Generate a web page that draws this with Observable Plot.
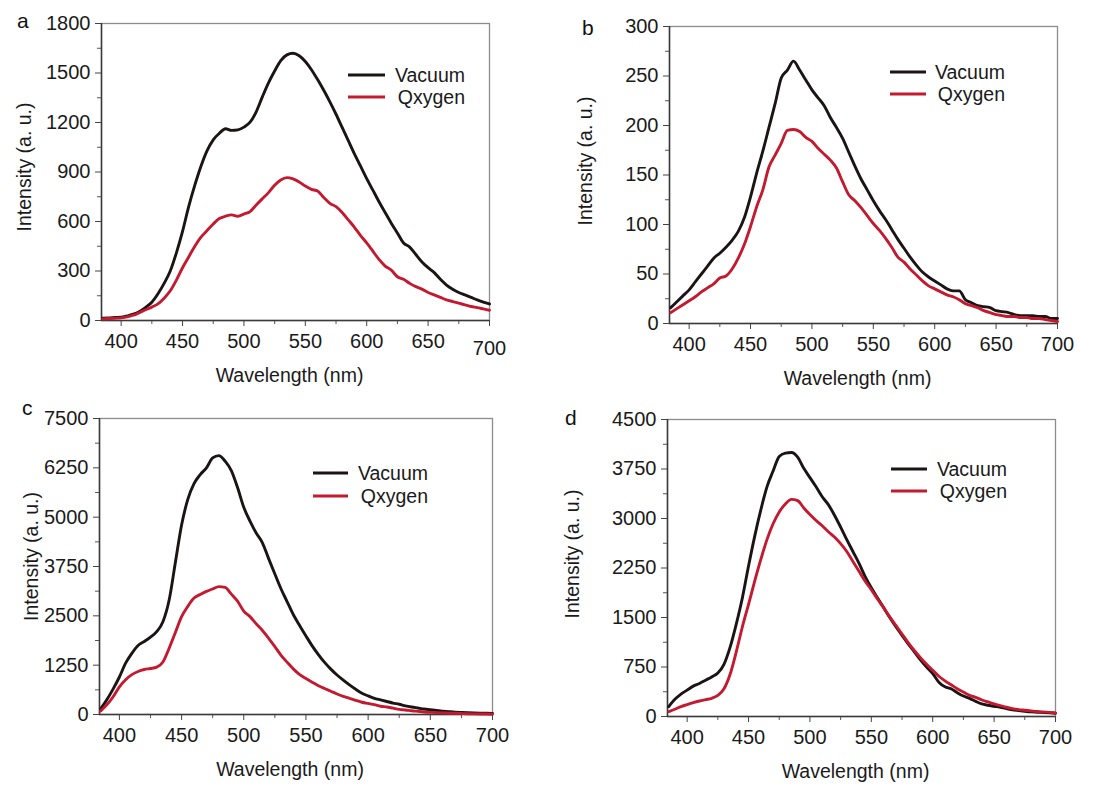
<!DOCTYPE html>
<html>
<head>
<meta charset="utf-8">
<script src="https://cdn.jsdelivr.net/npm/d3@7"></script>
<script src="https://cdn.jsdelivr.net/npm/@observablehq/plot@0.6"></script>
<style>
  html, body { margin: 0; padding: 0; background: #ffffff; }
  #root { position: relative; width: 1099px; height: 785px; overflow: hidden;
          font-family: "Liberation Sans", Arial, sans-serif; }
  #root > svg { position: absolute; }
</style>
</head>
<body>
<div id="root"></div>
<script>
// ---------------- data ----------------
const wavelengths = [385,390,395,400,405,410,415,420,425,430,435,440,445,450,455,460,465,470,475,480,485,490,495,500,505,510,515,520,525,530,535,540,545,550,555,560,565,570,575,580,585,590,595,600,605,610,615,620,625,630,635,640,645,650,655,660,665,670,675,680,685,690,695,700];

const vacuumA = [14,15,18,20, 28,38,55,80,111,162,225,300,410,540, 690,820,935,1030,1095,1135,1162,1152,1155,1172, 1202,1265,1355,1440,1512,1575,1610,1620,1605,1570, 1520,1460,1395,1325,1250,1170,1090,1010,935,860, 790,720,655,590,530,470,445,400,355,320, 290,250,215,190,170,155,140,125,112,100];
const oxygenA = [10,12,14,16, 22,32,48,65,81,101,135,180,245,320, 385,450,505,545,585,618,632,640,632,645, 660,700,738,775,820,852,866,858,840,815, 795,785,745,710,690,655,610,565,515,470, 420,370,330,305,265,250,225,205,190,170, 155,140,125,115,105,95,85,78,70,62];

const vacuumB = [16,22,28,34, 42,50,58,66,71,77,84,93,107,128, 152,174,198,222,248,256,265,256,246,236, 228,220,208,198,187,173,159,146,135,124, 114,105,95,85,76,67,59,52,47,43, 39,35,33,33,24,21,18,17,16,13, 12,11,9,8,8,8,7,7,5,5];
const oxygenB = [11,15,19,23, 27,32,36,40,46,48,55,66,80,98, 118,135,158,170,182,195,196,194,188,184, 177,171,165,157,143,130,124,117,109,101, 94,86,77,67,62,55,49,43,38,35, 32,29,27,24,20,18,16,13,11,9, 8,7,7,6,6,5,5,4,3,2];

const vacuumC = [150,380,650,950, 1300,1550,1750,1850,1960,2100,2350,2900,3850,4800, 5450,5850,6080,6250,6500,6560,6420,6180,5750,5250, 4900,4600,4350,3950,3560,3180,2850,2520,2250,1990, 1740,1520,1320,1150,1000,870,750,640,540,470, 410,370,330,290,260,220,190,165,140,120, 100,85,72,60,52,45,40,35,30,25];
const oxygenC = [90,250,450,700, 880,1010,1090,1140,1165,1200,1330,1680,2080,2480, 2740,2950,3040,3120,3180,3240,3220,3050,2870,2620, 2480,2300,2130,1930,1720,1500,1320,1150,1010,910, 820,730,660,590,520,460,410,360,310,280, 250,210,190,160,130,115,95,80,65,55, 47,40,35,30,25,20,17,14,11,8];

const vacuumD = [150,260,340,400, 460,500,550,600,660,790,1050,1400,1800,2280, 2730,3130,3480,3720,3940,3990,4000,3930,3760,3620, 3480,3330,3210,3050,2870,2680,2500,2320,2120,1950, 1800,1650,1500,1360,1230,1100,980,860,750,650, 520,450,420,360,310,275,230,190,170,155, 140,120,100,90,80,70,65,60,55,50];
const oxygenD = [75,110,150,180, 210,235,255,275,320,420,640,980,1360,1700, 2050,2380,2680,2920,3100,3220,3290,3270,3160,3060, 2970,2890,2800,2720,2620,2500,2350,2200,2050,1920, 1780,1650,1510,1380,1250,1120,1000,890,790,700, 610,540,480,420,370,320,290,250,220,190, 165,140,120,105,95,85,75,68,62,55];

const xDomain = [384, 700];
const xMajorTicks = [400,450,500,550,600,650,700];
const xMinorTicks = [425,475,525,575,625,675];

const yTicksA = [0,300,600,900,1200,1500,1800];
const yMinorA = [150,450,750,1050,1350,1650];
const yTicksB = [0,50,100,150,200,250,300];
const yMinorB = [25,75,125,175,225,275];
const yTicksC = [0,1250,2500,3750,5000,6250,7500];
const yMinorC = [625,1875,3125,4375,5625,6875];
const yTicksD = [0,750,1500,2250,3000,3750,4500];
const yMinorD = [375,1125,1875,2625,3375,4125];

const seriesNames = ["Vacuum", "Qxygen"];
const panelLetters = ["a", "b", "c", "d"];
const xTitle = "Wavelength (nm)";
const yTitle = "Intensity (a. u.)";

// ---------------- styling / layout ----------------
const vacuumColor = "#1c1414";
const oxygenColor = "#c41a30";
const FONT = '"Liberation Sans", Arial, sans-serif';

const panels = [
  {vac: vacuumA, oxy: oxygenA, yTicks: yTicksA, yMinor: yMinorA, lastPad: 14,
   left: 0, top: 0, height: 400, ml: 101, mr: 60, mt: 23, mb: 80, ylabX: 24, ylabDy: -5,
   letter: [17, 28], legend: {x1: 348, x2: 385, yV: 75, yO: 97, right: 465}},
  {vac: vacuumB, oxy: oxygenB, yTicks: yTicksB, yMinor: yMinorB, lastPad: 7,
   left: 550, top: 0, height: 400, ml: 119, mr: 42, mt: 26, mb: 77, ylabX: 35, ylabDy: -14,
   letter: [582, 35], legend: {x1: 890, x2: 926, yV: 72, yO: 94, right: 1005}},
  {vac: vacuumC, oxy: oxygenC, yTicks: yTicksC, yMinor: yMinorC, lastPad: 7,
   left: 0, top: 400, height: 385, ml: 99, mr: 57, mt: 18, mb: 71, ylabX: 31, ylabDy: -10,
   letter: [22, 415], legend: {x1: 313, x2: 348, yV: 473, yO: 496, right: 428}},
  {vac: vacuumD, oxy: oxygenD, yTicks: yTicksD, yMinor: yMinorD, lastPad: 7,
   left: 550, top: 400, height: 385, ml: 117, mr: 44, mt: 19, mb: 69, ylabX: 22, ylabDy: -14,
   letter: [565, 425], legend: {x1: 891, x2: 927, yV: 469, yO: 491, right: 1007}}
];

const root = document.getElementById("root");

panels.forEach((p) => {
  const data = wavelengths.map((w, i) => ({w, vac: p.vac[i], oxy: p.oxy[i]}));
  const yMax = p.yTicks[p.yTicks.length - 1];
  const svg = Plot.plot({
    width: 549,
    height: p.height,
    marginLeft: p.ml, marginRight: p.mr, marginTop: p.mt, marginBottom: p.mb,
    style: {fontFamily: FONT, fontSize: "20px", color: "#1a1a1a", background: "transparent"},
    x: {domain: xDomain, label: null},
    y: {domain: [0, yMax], label: null},
    marks: [
      Plot.frame({stroke: "#8c8c8c", strokeWidth: 1.3}),
      Plot.axisX({ticks: xMinorTicks, tickSize: 4, fill: "none", stroke: "#555", label: null}),
      Plot.axisX({ticks: xMajorTicks.slice(0, -1), tickSize: 6, tickPadding: 7, tickFormat: (d) => String(d),
                  fontSize: 20, stroke: "#444", fill: "#1a1a1a", label: null}),
      Plot.axisX({ticks: xMajorTicks.slice(-1), tickSize: 6, tickPadding: p.lastPad, tickFormat: (d) => String(d),
                  fontSize: 20, stroke: "#444", fill: "#1a1a1a", label: null}),
      Plot.axisY({ticks: p.yMinor, tickSize: 4, fill: "none", stroke: "#555", label: null}),
      Plot.axisY({ticks: p.yTicks, tickSize: 6, tickPadding: 5, tickFormat: (d) => String(d),
                  fontSize: 20, stroke: "#444", fill: "#1a1a1a", label: null}),
      Plot.ruleX([xDomain[0]], {stroke: "#3a3a3a", strokeWidth: 1.5}),
      Plot.ruleY([0], {stroke: "#3a3a3a", strokeWidth: 1.5}),
      Plot.line(data, {x: "w", y: "vac", stroke: vacuumColor, strokeWidth: 2.9, curve: "monotone-x"}),
      Plot.line(data, {x: "w", y: "oxy", stroke: oxygenColor, strokeWidth: 2.9, curve: "monotone-x"}),
      Plot.text([xTitle], {text: (d) => d, frameAnchor: "bottom", textAnchor: "middle", lineAnchor: "middle",
                           dy: 55, dx: -6, fontSize: 19.5, fill: "#1a1a1a"}),
      Plot.text([yTitle], {text: (d) => d, frameAnchor: "left", textAnchor: "middle", lineAnchor: "middle",
                           rotate: -90, dx: -(p.ml - p.ylabX), dy: p.ylabDy, fontSize: 19.5, fill: "#1a1a1a"})
    ]
  });
  svg.style.left = p.left + "px";
  svg.style.top = p.top + "px";
  root.appendChild(svg);
});

// ---------------- overlay: panel letters and legends ----------------
const ns = "http://www.w3.org/2000/svg";
const overlay = document.createElementNS(ns, "svg");
overlay.setAttribute("width", 1099);
overlay.setAttribute("height", 785);
overlay.style.left = "0px";
overlay.style.top = "0px";
overlay.style.pointerEvents = "none";
overlay.setAttribute("font-family", FONT);
root.appendChild(overlay);

function el(tag, attrs, text) {
  const e = document.createElementNS(ns, tag);
  for (const k in attrs) e.setAttribute(k, attrs[k]);
  if (text != null) e.textContent = text;
  overlay.appendChild(e);
  return e;
}

panels.forEach((p, i) => {
  el("text", {x: p.letter[0], y: p.letter[1], "font-size": 21, fill: "#111"}, panelLetters[i]);
  const L = p.legend;
  el("line", {x1: L.x1, x2: L.x2, y1: L.yV, y2: L.yV, stroke: vacuumColor, "stroke-width": 3.2});
  el("line", {x1: L.x1, x2: L.x2, y1: L.yO, y2: L.yO, stroke: oxygenColor, "stroke-width": 3.2});
  el("text", {x: L.right, y: L.yV + 7, "text-anchor": "end", "font-size": 19.5, fill: "#1a1a1a"}, seriesNames[0]);
  el("text", {x: L.right, y: L.yO + 7, "text-anchor": "end", "font-size": 19.5, fill: "#1a1a1a"}, seriesNames[1]);
});
</script>
</body>
</html>
